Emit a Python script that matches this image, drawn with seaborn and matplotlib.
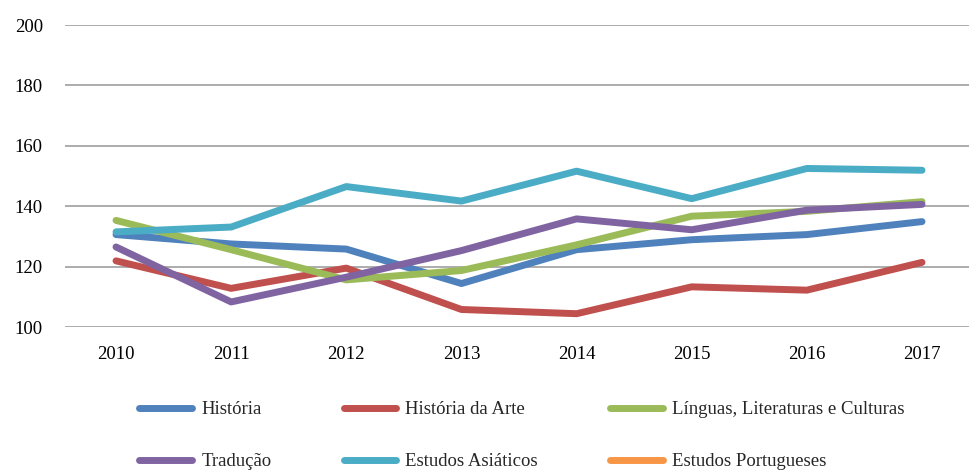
import pandas as pd
import matplotlib.pyplot as plt
import seaborn as sns
from matplotlib.lines import Line2D

anos = ['2010', '2011', '2012', '2013', '2014', '2015', '2016', '2017']

historia = [130.6, 127.5, 125.8, 114.4, 125.6, 128.9, 130.6, 134.9]
historia_arte = [121.9, 112.8, 119.5, 105.8, 104.4, 113.3, 112.2, 121.4]
linguas = [135.3, 125.6, 115.6, 118.7, 127.2, 136.7, 138.3, 141.5]
traducao = [126.5, 108.3, 116.5, 125.3, 135.8, 132.2, 138.7, 140.6]
asiaticos = [131.5, 133.1, 146.5, 141.7, 151.6, 142.5, 152.5, 151.9]

series = ['História', 'História da Arte', 'Línguas, Literaturas e Culturas',
          'Tradução', 'Estudos Asiáticos', 'Estudos Portugueses']
cores = ['#4F81BD', '#C0504D', '#9BBB59', '#8064A2', '#4BACC6', '#F79646']
paleta = dict(zip(series, cores))

valores = {
    'História': historia,
    'História da Arte': historia_arte,
    'Línguas, Literaturas e Culturas': linguas,
    'Tradução': traducao,
    'Estudos Asiáticos': asiaticos,
}

linhas = []
for nome, vals in valores.items():
    for ano, v in zip(anos, vals):
        linhas.append({'ano': ano, 'valor': v, 'curso': nome})
df = pd.DataFrame(linhas)

sns.set_style('white')
plt.rcParams['font.family'] = ['Liberation Serif', 'DejaVu Serif']

fig = plt.figure(figsize=(9.69, 4.70), dpi=100)
ax = fig.add_axes([65 / 969, 1 - 327 / 470, 904 / 969, 302 / 470])

sns.lineplot(data=df, x='ano', y='valor', hue='curso', palette=paleta,
             linewidth=5, legend=False, ax=ax, sort=False)
for ln in ax.get_lines():
    ln.set_solid_capstyle('round')
    ln.set_solid_joinstyle('round')

ax.set_xlim(-0.443, 7.408)
ax.set_ylim(100, 200)
ax.set_yticks(range(100, 201, 20))
ax.grid(axis='y', color='#A6A6A6', linewidth=1.3)
ax.set_axisbelow(True)
for s in ax.spines.values():
    s.set_visible(False)
ax.tick_params(axis='both', length=0, labelsize=13.5, colors='black')
ax.tick_params(axis='y', pad=16)
ax.tick_params(axis='x', pad=14)
ax.set_xlabel('')
ax.set_ylabel('')

# legenda em linhas: matplotlib preenche por colunas
ordem = [0, 3, 1, 4, 2, 5]
handles = [Line2D([0], [0], color=cores[i], linewidth=5, solid_capstyle='round') for i in ordem]
labels = [series[i] for i in ordem]
fig.legend(handles, labels, ncol=3, loc='upper left',
           bbox_to_anchor=(130 / 969, 1 - 392 / 470), frameon=False,
           fontsize=13.5, handlelength=2.8, handletextpad=0.5,
           columnspacing=3.85, labelspacing=1.85, borderpad=0)

fig.savefig('out.png', dpi=100)
